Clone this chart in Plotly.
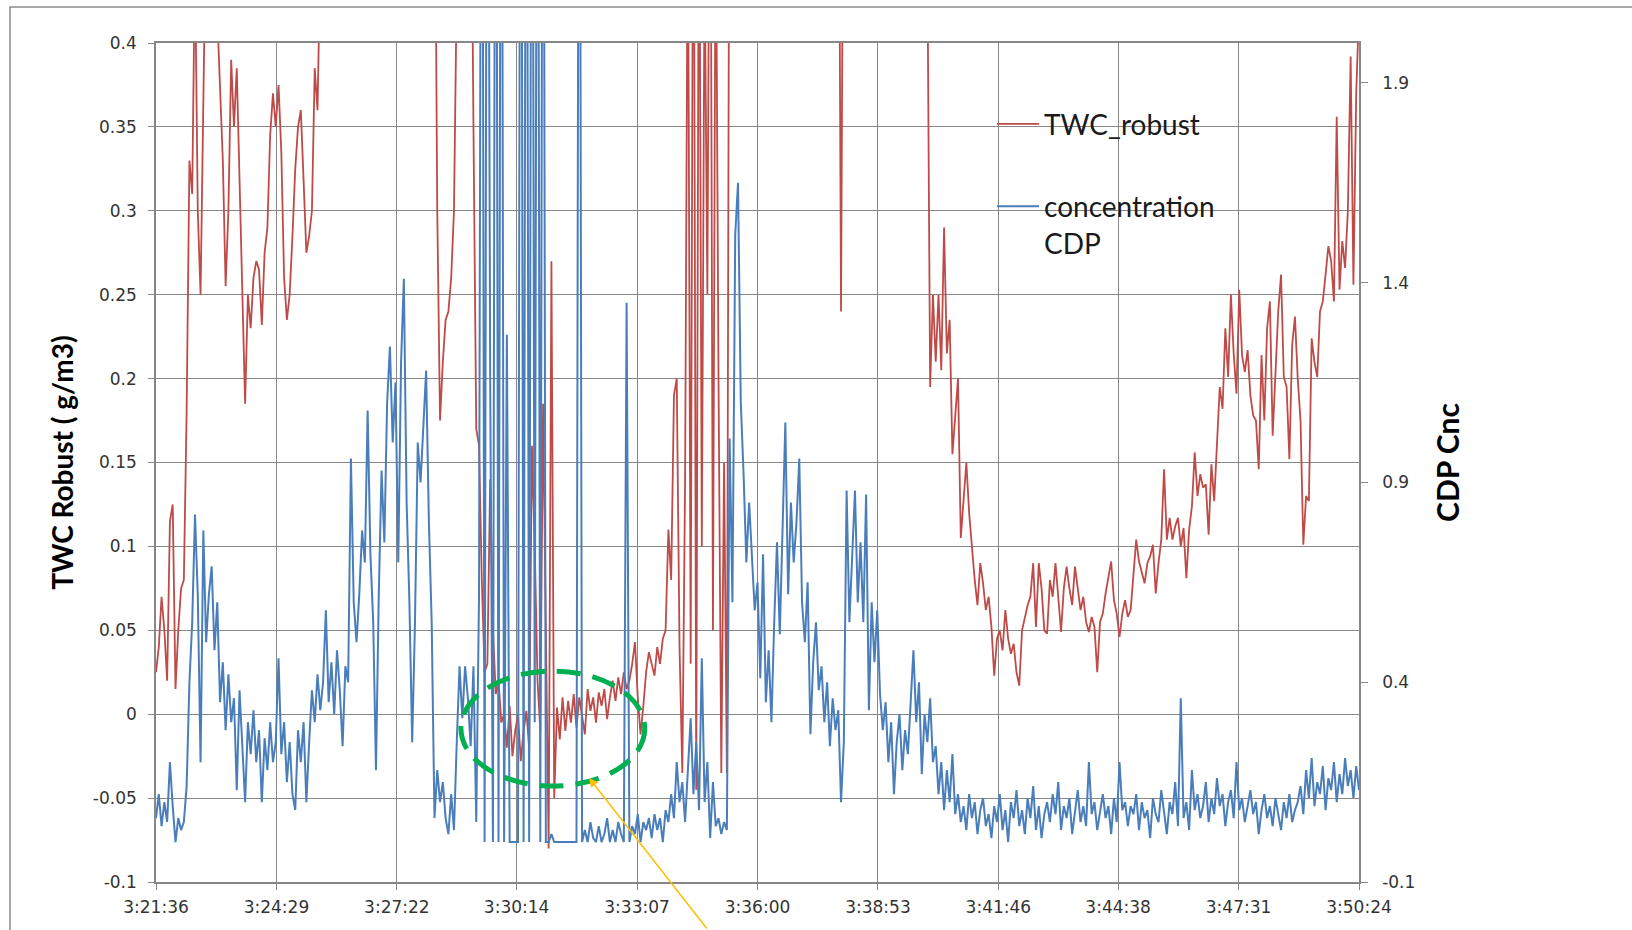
import pandas as pd
import plotly.graph_objects as go

# Flight segment 3:21:36 - 3:50:24, one sample every 4 s
start_time = "2000-01-01 03:21:36"
sample_seconds = 4

# TWC robust probe (g/m3), left axis
twc_robust = [
    0.025, 0.04, 0.07, 0.05, 0.02, 0.115, 0.125, 0.015, 0.05, 0.075,
    0.08, 0.18, 0.33, 0.31, 0.45, 0.30, 0.25, 0.42, 0.48, 0.50,
    0.52, 0.46, 0.42, 0.38, 0.33, 0.255, 0.30, 0.39, 0.35, 0.385,
    0.32, 0.25, 0.185, 0.25, 0.23, 0.26, 0.27, 0.265, 0.232, 0.275,
    0.29, 0.345, 0.37, 0.35, 0.375, 0.335, 0.26, 0.235, 0.25, 0.285,
    0.325, 0.35, 0.36, 0.318, 0.275, 0.285, 0.30, 0.385, 0.36, 0.45,
    0.52, 0.58, 0.62, 0.60, 0.66, 0.63, 0.70, 0.68, 0.72, 0.75,
    0.78, 0.74, 0.80, 0.85, 0.82, 0.88, 0.90, 0.86, 0.92, 0.88,
    0.85, 0.90, 0.95, 0.92, 0.98, 1.00, 0.96, 0.93, 0.90, 0.94,
    0.88, 0.85, 0.80, 0.82, 0.76, 0.72, 0.70, 0.66, 0.62, 0.58,
    0.55, 0.30, 0.175, 0.21, 0.235, 0.24, 0.26, 0.30, 0.45, 0.60,
    0.70, 0.65, 0.60, 0.55, 0.35, 0.17, 0.16, 0.08, 0.025, 0.03,
    0.14, 0.05, 0.012, 0.02, -0.005, 0.0, -0.02, 0.005, -0.025, -0.01,
    0.0, -0.028, -0.01, 0.002, -0.02, 0.16, 0.10, 0.02, -0.01, 0.185,
    0.05, -0.08, 0.27, -0.05, 0.004, -0.015, 0.01, -0.01, 0.008, -0.005,
    0.012, -0.008, 0.01, 0.0, -0.012, 0.015, 0.002, 0.01, -0.005, 0.013,
    0.005, 0.015, -0.003, 0.01, 0.02, 0.008, 0.022, 0.012, 0.025, 0.015,
    0.02, 0.03, 0.043, 0.01, -0.012, 0.005, 0.025, 0.037, 0.03, 0.023,
    0.04, 0.03, 0.045, 0.05, 0.11, 0.08, 0.19, 0.20, 0.04, -0.035,
    0.14, 0.50, 0.03, 0.60, -0.045, 0.55, 0.10, 0.45, 0.25, 0.60,
    0.05, 0.50, 0.20, -0.035, 0.15, -0.035, 0.60, 0.55, 0.62, 0.50,
    0.55, 0.60, 0.65, 0.70, 0.68, 0.72, 0.75, 0.80, 0.78, 0.82,
    0.85, 0.88, 0.84, 0.90, 0.86, 0.92, 0.88, 0.85, 0.90, 0.87,
    0.84, 0.80, 0.82, 0.78, 0.75, 0.77, 0.72, 0.70, 0.68, 0.66,
    0.70, 0.68, 0.65, 0.60, 0.55, 0.60, 0.24, 0.60, 0.65, 0.70,
    0.72, 0.75, 0.78, 0.74, 0.80, 0.76, 0.72, 0.70, 0.74, 0.68,
    0.66, 0.70, 0.64, 0.62, 0.66, 0.60, 0.62, 0.58, 0.60, 0.56,
    0.60, 0.65, 0.55, 0.60, 0.70, 0.60, 0.50, 0.45, 0.195, 0.25,
    0.21, 0.25, 0.205, 0.29, 0.215, 0.235, 0.155, 0.175, 0.20, 0.105,
    0.125, 0.15, 0.12, 0.098, 0.08, 0.065, 0.09, 0.078, 0.062, 0.07,
    0.052, 0.023, 0.045, 0.05, 0.038, 0.062, 0.045, 0.036, 0.042, 0.025,
    0.017, 0.05, 0.058, 0.065, 0.07, 0.09, 0.052, 0.09, 0.075, 0.05,
    0.048, 0.08, 0.07, 0.09, 0.07, 0.049, 0.075, 0.088, 0.075, 0.065,
    0.088, 0.075, 0.062, 0.07, 0.055, 0.049, 0.058, 0.052, 0.025, 0.055,
    0.06, 0.072, 0.082, 0.091, 0.068, 0.06, 0.046, 0.06, 0.068, 0.058,
    0.062, 0.085, 0.104, 0.091, 0.085, 0.078, 0.09, 0.094, 0.101, 0.072,
    0.09, 0.104, 0.146, 0.104, 0.117, 0.104, 0.112, 0.117, 0.10, 0.111,
    0.081, 0.11, 0.124, 0.156, 0.13, 0.143, 0.135, 0.137, 0.107, 0.149,
    0.127, 0.165, 0.195, 0.182, 0.23, 0.201, 0.25, 0.215, 0.191, 0.253,
    0.214, 0.204, 0.217, 0.19, 0.178, 0.175, 0.146, 0.214, 0.175, 0.23,
    0.246, 0.166, 0.20, 0.24, 0.262, 0.201, 0.195, 0.152, 0.22, 0.237,
    0.20, 0.175, 0.101, 0.13, 0.127, 0.224, 0.21, 0.201, 0.24, 0.246,
    0.262, 0.279, 0.27, 0.246, 0.356, 0.253, 0.282, 0.266, 0.30, 0.392,
    0.256, 0.37, 0.42,
]

# CDP droplet concentration, right axis
cdp_concentration = [
    0.06, 0.12, 0.04, 0.10, 0.05, 0.20, 0.09, 0.00, 0.06, 0.03,
    0.05, 0.14, 0.40, 0.55, 0.82, 0.62, 0.20, 0.78, 0.50, 0.62,
    0.69, 0.48, 0.60, 0.35, 0.45, 0.28, 0.42, 0.30, 0.36, 0.13,
    0.38, 0.25, 0.10, 0.30, 0.22, 0.33, 0.20, 0.28, 0.10, 0.26,
    0.18, 0.30, 0.20, 0.25, 0.46, 0.22, 0.30, 0.15, 0.25, 0.12,
    0.08, 0.28, 0.20, 0.30, 0.10, 0.25, 0.38, 0.30, 0.42, 0.33,
    0.40, 0.58, 0.35, 0.45, 0.32, 0.48, 0.38, 0.24, 0.44, 0.40,
    0.96, 0.60, 0.50, 0.62, 0.78, 0.70, 1.08, 0.72, 0.55, 0.18,
    0.62, 0.93, 0.75, 1.10, 1.24, 1.00, 1.15, 0.70, 1.20, 1.41,
    0.85, 0.60, 0.25, 0.55, 1.00, 0.90, 1.05, 1.18, 0.80, 0.55,
    0.06, 0.18, 0.10, 0.15, 0.06, 0.02, 0.12, 0.03, 0.25, 0.44,
    0.31, 0.44, 0.36, 0.24, 0.44, 0.05, 0.62, 3.50, 0.00, 3.50,
    1.16, 0.00, 3.50, 0.00, 3.50, 0.00, 1.27, 0.00, 0.00, 0.00,
    0.00, 3.50, 0.00, 3.50, 0.00, 3.50, 0.30, 3.50, 0.00, 3.50,
    0.00, 0.00, 0.02, 0.00, 0.00, 0.00, 0.00, 0.00, 0.00, 0.00,
    0.00, 0.00, 3.50, 0.00, 0.03, 0.00, 0.05, 0.01, 0.00, 0.04,
    0.00, 0.02, 0.06, 0.00, 0.03, 0.00, 0.05, 0.02, 0.00, 1.35,
    0.00, 0.04, 0.02, 0.07, 0.00, 0.05, 0.03, 0.06, 0.01, 0.07,
    0.03, 0.06, 0.00, 0.08, 0.05, 0.12, 0.06, 0.20, 0.10, 0.15,
    0.05, 0.18, 0.31, 0.12, 0.25, 0.08, 0.46, 0.10, 0.20, 0.01,
    0.15, 0.04, 0.06, 0.02, 0.05, 0.03, 1.01, 0.60, 1.52, 1.65,
    1.10, 0.92, 0.70, 0.85, 0.73, 0.58, 0.65, 0.41, 0.72, 0.35,
    0.48, 0.30, 0.55, 0.75, 0.52, 0.78, 1.05, 0.62, 0.85, 0.70,
    0.80, 0.96, 0.60, 0.50, 0.65, 0.27, 0.45, 0.55, 0.38, 0.44,
    0.30, 0.40, 0.24, 0.36, 0.28, 0.33, 0.10, 0.25, 0.88, 0.55,
    0.70, 0.88, 0.60, 0.75, 0.55, 0.87, 0.33, 0.60, 0.45, 0.58,
    0.37, 0.28, 0.35, 0.20, 0.30, 0.12, 0.25, 0.32, 0.18, 0.28,
    0.22, 0.35, 0.48, 0.30, 0.40, 0.17, 0.32, 0.25, 0.36, 0.20,
    0.24, 0.12, 0.20, 0.08, 0.18, 0.10, 0.22, 0.07, 0.12, 0.05,
    0.09, 0.03, 0.12, 0.06, 0.10, 0.02, 0.08, 0.11, 0.04, 0.07,
    0.01, 0.09, 0.05, 0.12, 0.03, 0.08, 0.00, 0.10, 0.06, 0.13,
    0.04, 0.08, 0.02, 0.11, 0.06, 0.14, 0.03, 0.09, 0.01, 0.07,
    0.10, 0.05, 0.12, 0.07, 0.15, 0.03, 0.09, 0.06, 0.11, 0.02,
    0.08, 0.13, 0.05, 0.09, 0.04, 0.20, 0.07, 0.10, 0.03, 0.08,
    0.12, 0.06, 0.09, 0.02, 0.11, 0.05, 0.20, 0.08, 0.10, 0.04,
    0.09, 0.07, 0.12, 0.03, 0.10, 0.06, 0.08, 0.01, 0.11, 0.07,
    0.05, 0.13, 0.08, 0.02, 0.10, 0.07, 0.15, 0.04, 0.36, 0.06,
    0.10, 0.03, 0.18, 0.08, 0.12, 0.06, 0.09, 0.15, 0.05, 0.11,
    0.07, 0.16, 0.09, 0.12, 0.04, 0.10, 0.13, 0.06, 0.20, 0.08,
    0.11, 0.05, 0.09, 0.13, 0.07, 0.10, 0.02, 0.08, 0.12, 0.06,
    0.09, 0.04, 0.11, 0.07, 0.03, 0.10, 0.06, 0.12, 0.05, 0.08,
    0.10, 0.14, 0.07, 0.18, 0.11, 0.21, 0.09, 0.15, 0.12, 0.19,
    0.08, 0.16, 0.13, 0.20, 0.10, 0.17, 0.12, 0.21, 0.14, 0.18,
    0.11, 0.19, 0.13,
]

time_tick_labels = ["3:21:36", "3:24:29", "3:27:22", "3:30:14", "3:33:07", "3:36:00",
                    "3:38:53", "3:41:46", "3:44:38", "3:47:31", "3:50:24"]
twc_tick_labels = ["-0.1", "-0.05", "0", "0.05", "0.1", "0.15", "0.2", "0.25", "0.3", "0.35", "0.4"]
cdp_tick_labels = ["-0.1", "0.4", "0.9", "1.4", "1.9"]


def sample_times(n):
    return pd.date_range(start_time, periods=n, freq=f"{sample_seconds}s")


twc_times = sample_times(len(twc_robust))
cdp_times = sample_times(len(cdp_concentration))
day = start_time.split(" ")[0]
time_ticks = pd.to_datetime([f"{day} {lab}" for lab in time_tick_labels])

GRID = "#878787"
TICK_FONT = dict(family="DejaVu Sans", size=17, color="#333333")

fig = go.Figure()
fig.add_trace(go.Scatter(
    x=twc_times, y=twc_robust, name="TWC_robust", legendgroup="twc",
    mode="lines", line=dict(color="#BE4B48", width=1.8), yaxis="y",
))
fig.add_trace(go.Scatter(
    x=cdp_times, y=cdp_concentration, name="concentration<br>CDP", legendgroup="cdp",
    mode="lines", line=dict(color="#4A7EBB", width=2.0), yaxis="y2",
))

fig.update_layout(
    width=1632, height=930,
    margin=dict(l=156, r=273, t=43, b=48),
    paper_bgcolor="white", plot_bgcolor="white",
    xaxis=dict(
        type="date", range=[time_ticks[0], time_ticks[-1]],
        tickvals=time_ticks, ticktext=time_tick_labels,
        showgrid=True, gridcolor=GRID, gridwidth=1.3,
        showline=True, linecolor=GRID, linewidth=1.5, mirror=True,
        ticks="outside", ticklen=6, tickcolor=GRID, tickwidth=1.3,
        ticklabelstandoff=3, tickfont=TICK_FONT,
    ),
    yaxis=dict(
        range=[-0.1, 0.4],
        tickvals=[float(s) for s in twc_tick_labels], ticktext=twc_tick_labels,
        showgrid=True, gridcolor=GRID, gridwidth=1.3, zeroline=False,
        showline=True, linecolor=GRID, linewidth=1.5,
        ticks="outside", ticklen=6, tickcolor=GRID, tickwidth=1.3,
        ticklabelstandoff=8, tickfont=TICK_FONT,
        title=dict(text="TWC Robust ( g/m3)", standoff=11,
                   font=dict(family="Lato", size=28, color="black", weight="bold")),
    ),
    yaxis2=dict(
        overlaying="y", side="right", range=[-0.1, 2.0],
        tickvals=[float(s) for s in cdp_tick_labels], ticktext=cdp_tick_labels,
        showgrid=False, zeroline=False,
        showline=True, linecolor=GRID, linewidth=1.5,
        ticks="outside", ticklen=7, tickcolor=GRID, tickwidth=1.3,
        ticklabelstandoff=11, tickfont=TICK_FONT,
        title=dict(text="CDP Cnc", standoff=24,
                   font=dict(family="Lato", size=30, color="black", weight="bold")),
    ),
    legend=dict(
        x=0.695, xanchor="left", y=0.933, yanchor="top",
        bgcolor="rgba(0,0,0,0)", borderwidth=0,
        font=dict(family="Lato", size=28, color="#1a1a1a"),
        tracegroupgap=43, valign="top", itemwidth=42,
    ),
    showlegend=True,
)

# Outer chart frame
fig.add_shape(type="rect", xref="paper", yref="paper",
              x0=(10 - 156) / 1203, x1=1.5, y0=-0.5, y1=(882 - 7) / 839,
              line=dict(color="#8c8c8c", width=1.5), fillcolor="rgba(0,0,0,0)", layer="below")

# Highlighted low-TWC region
fig.add_shape(type="circle", xref="x", yref="y",
              x0=pd.Timestamp(f"{day} 03:28:54"), x1=pd.Timestamp(f"{day} 03:33:18"),
              y0=-0.0428, y1=0.0257,
              line=dict(color="#00B050", width=5, dash="24px,12px"))

fig.add_annotation(x=pd.Timestamp(f"{day} 03:31:58"), y=-0.038, xref="x", yref="y",
                   ax=119, ay=160, axref="pixel", ayref="pixel",
                   text="", showarrow=True, arrowhead=2, arrowsize=1.2,
                   arrowwidth=1.5, arrowcolor="#FFC000")

fig.write_html("out.html")
